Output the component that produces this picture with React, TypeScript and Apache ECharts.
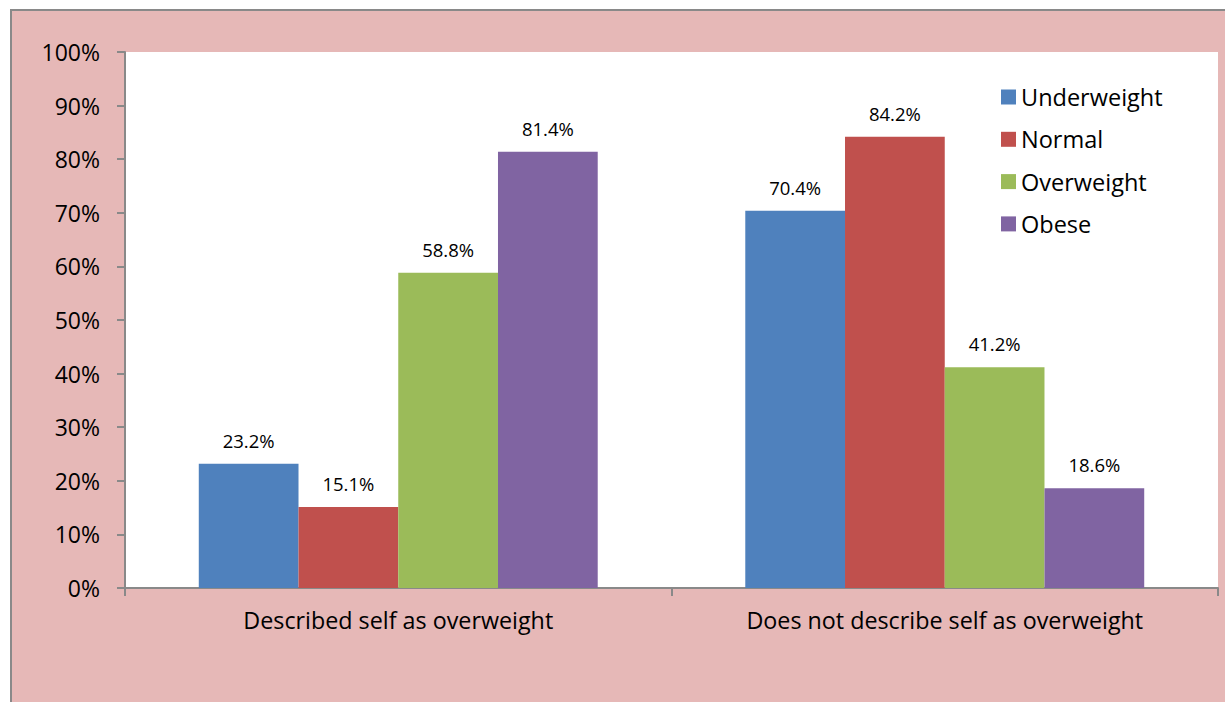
import React, { useEffect, useRef } from "react";
import * as echarts from "echarts";

const categories = ["Described self as overweight", "Does not describe self as overweight"];
const seriesNames = ["Underweight", "Normal", "Overweight", "Obese"];
const underweight = [23.2, 70.4];
const normal = [15.1, 84.2];
const overweight = [58.8, 41.2];
const obese = [81.4, 18.6];
const colors = ["#4F81BD", "#C0504D", "#9BBB59", "#8064A2"];

const FONT = "Open Sans";

export default function App() {
  const ref = useRef<HTMLDivElement>(null);
  useEffect(() => {
    if (!ref.current) return;
    const chart = echarts.init(ref.current, undefined, { renderer: "svg" });
    const data = [underweight, normal, overweight, obese];
    chart.setOption({
      animation: false,
      backgroundColor: "#ffffff",
      textStyle: { fontFamily: FONT },
      graphic: [
        {
          type: "rect",
          z: -100,
          shape: { x: 11, y: 10, width: 1260, height: 760 },
          style: { fill: "#E6B8B7", stroke: "#898989", lineWidth: 2 },
        },
      ],
      grid: {
        left: 125,
        right: 7,
        top: 52,
        bottom: 114,
        show: true,
        backgroundColor: "#ffffff",
        borderWidth: 0,
      },
      legend: {
        orient: "vertical",
        left: 996,
        top: 80,
        itemWidth: 15,
        itemHeight: 15,
        itemGap: 18.3,
        icon: "rect",
        textStyle: { fontSize: 23.5, color: "#000", fontFamily: FONT },
        data: seriesNames,
      },
      xAxis: {
        type: "category",
        data: categories,
        axisLine: { lineStyle: { color: "#898989", width: 2 } },
        axisTick: { show: true, length: 8, lineStyle: { color: "#898989", width: 2 } },
        axisLabel: { fontSize: 23.3, color: "#000", margin: 20, fontFamily: FONT },
      },
      yAxis: {
        type: "value",
        min: 0,
        max: 100,
        interval: 10,
        axisLine: { show: true, lineStyle: { color: "#898989", width: 2 } },
        axisTick: { show: true, length: 8, lineStyle: { color: "#898989", width: 2 } },
        splitLine: { show: false },
        axisLabel: { fontSize: 23, color: "#000", margin: 25, formatter: "{value}%", fontFamily: FONT },
      },
      series: seriesNames.map((name, i) => ({
        name,
        type: "bar",
        data: data[i],
        barGap: "0%",
        barCategoryGap: "27%",
        itemStyle: { color: colors[i] },
        label: {
          show: true,
          position: "top",
          distance: 14,
          fontSize: 18.5,
          color: "#000",
          fontFamily: FONT,
          formatter: (p: any) => p.value.toFixed(1) + "%",
        },
      })),
    });
    return () => chart.dispose();
  }, []);
  return (
    <div
      ref={ref}
      style={{ position: "fixed", left: 0, top: 0, width: 1225, height: 702 }}
    />
  );
}
